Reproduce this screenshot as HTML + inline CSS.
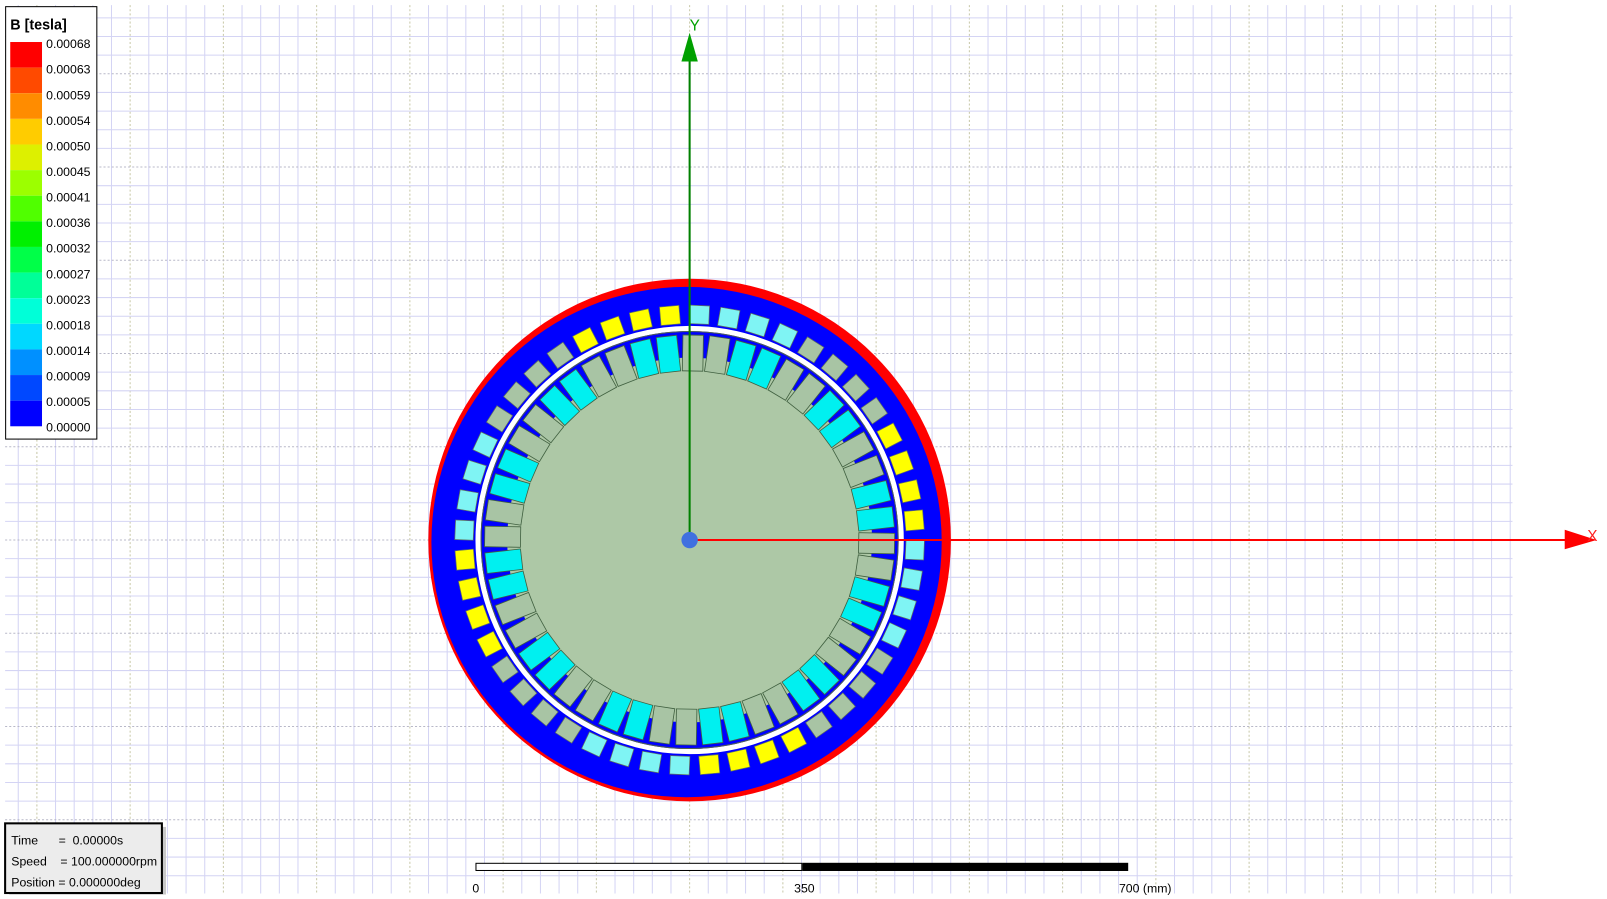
<!DOCTYPE html>
<html><head><meta charset="utf-8"><style>
html,body{margin:0;padding:0;background:#fff;}
#wrap{position:relative;width:1607px;height:899px;overflow:hidden;font-family:"Liberation Sans",sans-serif;}
svg{position:absolute;left:0;top:0;}
</style></head><body>
<div id="wrap">
<svg id="s0" width="1607" height="899"><g id="s" transform="scale(1.0247)"></g></svg>
</div>
<script>
const legendLabels=["0.00068","0.00063","0.00059","0.00054","0.00050","0.00045","0.00041","0.00036","0.00032","0.00027","0.00023","0.00018","0.00014","0.00009","0.00005","0.00000"];
const legendColors=["#ff0000","#ff4a00","#ff8c00","#ffcc00","#ddf000","#9cff00","#50ff00","#00f000","#00ff48","#00ff98","#00ffd8","#00d8ff","#0090ff","#0048ff","#0000ff"];
const outerPattern=["#7ff4f4","#7ff4f4","#7ff4f4","#7ff4f4","#a8c4a4","#a8c4a4","#a8c4a4","#a8c4a4","#ffff00","#ffff00","#ffff00","#ffff00"];
const innerPattern=["#a8c4a4","#a8c4a4","#00f0f0","#00f0f0"];
const slotCount=[48];
const scaleTicks=["0","350","700 (mm)"];

const NS="http://www.w3.org/2000/svg";
const s=document.getElementById('s');
function mk(t,a,p){const e=document.createElementNS(NS,t);for(const k in a)e.setAttribute(k,a[k]);(p||s).appendChild(e);return e;}
const cx=673,cy=527;
const g=mk('g',{});


const step=18.2;
for(let i=-36;i<=44;i++){const x=cx+i*step;if(x<5||x>1476)continue;
 const major=i%5===0;
 mk('line',{x1:x,y1:5,x2:x,y2:872,stroke:major?'#c8c8a8':'#d4d4f4','stroke-width':1,'stroke-dasharray':major?'2,2':''},g);}
for(let j=-29;j<=19;j++){const y=cy+j*step;if(y<5||y>872)continue;
 const major=j%5===0;
 mk('line',{x1:5,y1:y,x2:1476,y2:y,stroke:major?'#b8b8c8':'#d4d4f4','stroke-width':1,'stroke-dasharray':major?'2,2':''},g);}
const m=mk('g',{});


let c=mk('circle',{cx:cx,cy:cy,r:255,fill:'#ff0000'},m);


c=mk('circle',{cx:cx-3,cy:cy+2,r:249,fill:'#0000ff'},m);


mk('circle',{cx:cx,cy:cy,r:206.5,fill:'none',stroke:'#fff','stroke-width':5},m);
mk('circle',{cx:cx,cy:cy,r:203.5,fill:'none',stroke:'#506050','stroke-width':1},m);
c=mk('circle',{cx:cx,cy:cy,r:178,fill:'#adc8a6'},m);


const N=slotCount[0];
for(let k=0;k<N;k++){
 const ang=90-2.5-k*360/N;
 const rot=90-ang;
 let r=mk('rect',{x:-9.5,y:-229,width:19,height:18,fill:outerPattern[k%outerPattern.length],stroke:'#607060','stroke-width':0.7,transform:`translate(${cx},${cy}) rotate(${rot})`},m);
 
 
 const ang2=90-1-k*360/N;
 let q=mk('rect',{x:-10,y:-200,width:20,height:35,fill:innerPattern[k%innerPattern.length],stroke:'#406040','stroke-width':0.8,transform:`translate(${cx},${cy}) rotate(${90-ang2})`},m);
 
 
}
mk('line',{x1:cx,y1:cy,x2:cx,y2:58,stroke:'#008000','stroke-width':2});
let a=mk('polygon',{points:`${cx},32 ${cx-8},60 ${cx+8},60`,fill:'#00a000'});


mk('line',{x1:cx,y1:cy,x2:1530,y2:cy,stroke:'#ff0000','stroke-width':2});
a=mk('polygon',{points:`1527,517 1558,527 1527,536`,fill:'#ff0000'});


let t=mk('text',{x:673,y:30,fill:'#00a000','font-size':15,'font-family':'Liberation Sans'});t.textContent='Y';

t=mk('text',{x:1549,y:528,fill:'#ff2020','font-size':15,'font-family':'Liberation Sans'});t.textContent='X';

c=mk('circle',{cx:cx,cy:cy,r:8,fill:'#4070e0'});

const L=mk('g',{});


mk('rect',{x:5.5,y:6.5,width:89,height:422,fill:'#fff',stroke:'#000','stroke-width':1},L);
t=mk('text',{x:10,y:29,'font-size':14,'font-weight':'bold','font-family':'Liberation Sans'},L);t.textContent='B [tesla]';

legendColors.forEach((col,i)=>{const r=mk('rect',{x:10,y:41+i*25,width:31,height:25,fill:col},L);
 });
legendLabels.forEach((lb,i)=>{const e=mk('text',{x:45,y:47+i*24.95,'font-size':12,'font-family':'Liberation Sans'},L);e.textContent=lb;
 });
const S=mk('g',{});


mk('rect',{x:464.5,y:842.5,width:318,height:7,fill:'#fff',stroke:'#000'},S);
mk('rect',{x:783,y:842,width:318,height:8,fill:'#000'},S);
[461,775,1092].forEach((x,i)=>{const e=mk('text',{x:x,y:871,'font-size':12,'font-family':'Liberation Sans'},S);e.textContent=scaleTicks[i];
 });
const I=mk('g',{});


mk('rect',{x:9,y:807,width:153,height:66,fill:'#c8c8c8'},I);
mk('rect',{x:5,y:803.5,width:153,height:68,fill:'#ececec',stroke:'#000','stroke-width':2},I);
["Time      =  0.00000s","Speed    = 100.000000rpm","Position = 0.000000deg"].forEach((s2,i)=>{const e=mk('text',{x:11,y:824+i*20.5,'font-size':12,'font-family':'Liberation Sans'},I);e.textContent=s2;e.style.whiteSpace='pre';
 });
</script>
</body></html>
